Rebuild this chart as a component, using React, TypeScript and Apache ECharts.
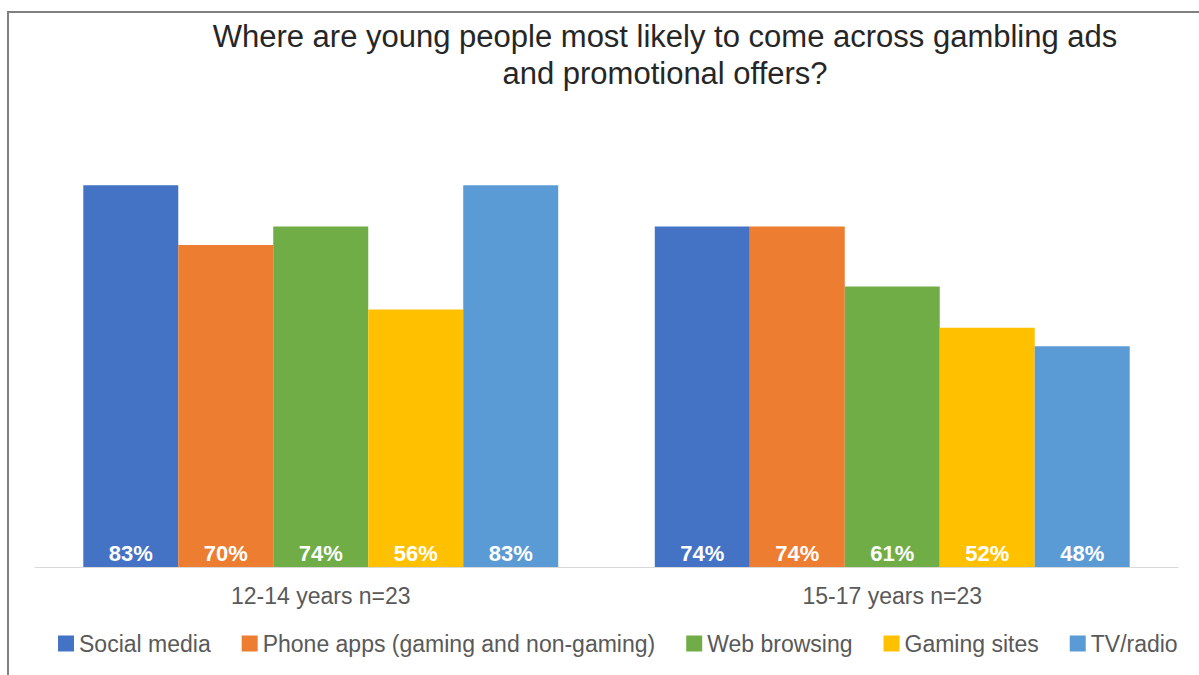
import React, { useEffect, useRef } from "react";
import * as echarts from "echarts";

const categories = ["12-14 years n=23", "15-17 years n=23"];
const seriesNames = [
  "Social media",
  "Phone apps (gaming and non-gaming)",
  "Web browsing",
  "Gaming sites",
  "TV/radio",
];
const socialMedia = [83, 74];
const phoneApps = [70, 74];
const webBrowsing = [74, 61];
const gamingSites = [56, 52];
const tvRadio = [83, 48];
const colors = ["#4472C4", "#ED7D31", "#70AD47", "#FFC000", "#5B9BD5"];
const titleText =
  "Where are young people most likely to come across gambling ads\nand promotional offers?";

export default function App() {
  const ref = useRef<HTMLDivElement>(null);
  useEffect(() => {
    if (!ref.current) return;
    const chart = echarts.init(ref.current, null, { renderer: "svg" });
    const values = [socialMedia, phoneApps, webBrowsing, gamingSites, tvRadio];
    const font = "'Liberation Sans', Arial, sans-serif";
    chart.setOption({
      animation: false,
      backgroundColor: "#ffffff",
      textStyle: { fontFamily: font },
      title: {
        text: titleText,
        left: 660,
        textAlign: "center",
        top: 13,
        textStyle: {
          fontFamily: font,
          fontSize: 31,
          fontWeight: "normal",
          color: "#262626",
          lineHeight: 37,
        },
      },
      graphic: [
        {
          type: "polyline",
          shape: { points: [[1220, 12], [8, 12], [8, 690]] },
          style: { stroke: "#808080", lineWidth: 2, fill: "none" },
          silent: true,
        },
      ],
      legend: {
        bottom: 15,
        left: 53,
        itemWidth: 16,
        itemHeight: 16,
        itemGap: 31,
        icon: "rect",
        textStyle: { fontFamily: font, fontSize: 23, color: "#595959", padding: [0, 0, 0, 0] },
        data: seriesNames,
      },
      grid: { left: 35, right: 21, top: 153, bottom: 108 },
      xAxis: {
        type: "category",
        data: categories,
        axisLine: { lineStyle: { color: "#d9d9d9", width: 1 } },
        axisTick: { show: false },
        axisLabel: { fontFamily: font, fontSize: 23, color: "#595959", margin: 17 },
      },
      yAxis: {
        type: "value",
        min: 0,
        max: 90,
        show: false,
        splitLine: { show: false },
      },
      series: seriesNames.map((name, i) => ({
        name,
        type: "bar",
        data: values[i],
        barGap: "0%",
        barCategoryGap: "16.9%",
        itemStyle: { color: colors[i] },
        label: {
          show: true,
          position: "insideBottom",
          distance: 3,
          formatter: "{c}%",
          color: "#ffffff",
          fontFamily: font,
          fontWeight: "bold",
          fontSize: 22,
        },
      })),
    });
    return () => chart.dispose();
  }, []);
  return (
    <div
      ref={ref}
      style={{ position: "absolute", left: 0, top: 0, width: 1199, height: 675 }}
    />
  );
}
